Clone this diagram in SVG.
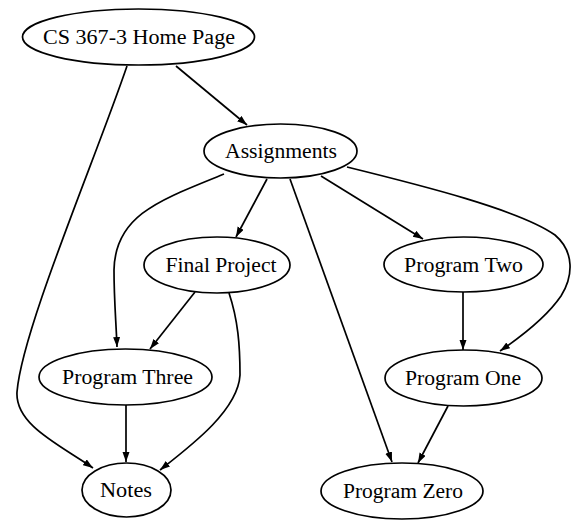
<svg xmlns="http://www.w3.org/2000/svg" width="573" height="522" viewBox="0 0 573 522">
<style>
.n ellipse{fill:#fff;stroke:#000;stroke-width:1.7}
.n text{font-family:"Liberation Serif","Times New Roman",serif;font-size:20px;fill:#000;text-anchor:middle}
#edges path{fill:none;stroke:#000;stroke-width:1.7;marker-end:url(#ah)}
</style>
<defs>
<marker id="ah" markerUnits="userSpaceOnUse" markerWidth="11" markerHeight="8" refX="10" refY="3.5" orient="auto">
<path d="M0,0 L10,3.5 L0,7 z" fill="#000"/>
</marker>
</defs>
<rect width="573" height="522" fill="#fff"/>
<g id="edges">
<path d="M176,66 L247,125"/>
<path d="M127,66 C95,160 22,330 17,392 C15,425 60,445 93,468"/>
<path d="M267,179 L236,237"/>
<path d="M224,174 C160,200 115,215 114,270 C114,300 116,320 117,347"/>
<path d="M290,179 L392,462"/>
<path d="M321,176 L423,239"/>
<path d="M347,167 C420,185 520,210 555,235 C575,252 573,277 561,296 C546,318 522,336 500,351"/>
<path d="M195,292 L150,349"/>
<path d="M229,293 C238,320 240,345 240,375 C238,410 192,445 160,470"/>
<path d="M126,405 L126,462"/>
<path d="M463,292 L463,350"/>
<path d="M448,406 L418,463"/>
</g>
<g id="home" class="n"><ellipse cx="138.5" cy="37" rx="116" ry="28"/><text x="139" y="44" textLength="192" lengthAdjust="spacingAndGlyphs">CS 367-3 Home Page</text></g>
<g id="assignments" class="n"><ellipse cx="280.5" cy="151" rx="76.5" ry="27"/><text x="281" y="158" textLength="112" lengthAdjust="spacingAndGlyphs">Assignments</text></g>
<g id="final" class="n"><ellipse cx="217" cy="265" rx="73" ry="28"/><text x="221" y="272" textLength="111" lengthAdjust="spacingAndGlyphs">Final Project</text></g>
<g id="two" class="n"><ellipse cx="463.5" cy="264.5" rx="79.5" ry="27.5"/><text x="463.5" y="271.5" textLength="119" lengthAdjust="spacingAndGlyphs">Program Two</text></g>
<g id="three" class="n"><ellipse cx="125.5" cy="377" rx="86.5" ry="28"/><text x="127.5" y="384" textLength="131" lengthAdjust="spacingAndGlyphs">Program Three</text></g>
<g id="one" class="n"><ellipse cx="463.5" cy="378" rx="78.5" ry="28"/><text x="463" y="385" textLength="116" lengthAdjust="spacingAndGlyphs">Program One</text></g>
<g id="notes" class="n"><ellipse cx="126.5" cy="490" rx="44.5" ry="27"/><text x="126" y="497" textLength="52" lengthAdjust="spacingAndGlyphs">Notes</text></g>
<g id="zero" class="n"><ellipse cx="402" cy="491" rx="81" ry="28"/><text x="403" y="498" textLength="120" lengthAdjust="spacingAndGlyphs">Program Zero</text></g>
</svg>
